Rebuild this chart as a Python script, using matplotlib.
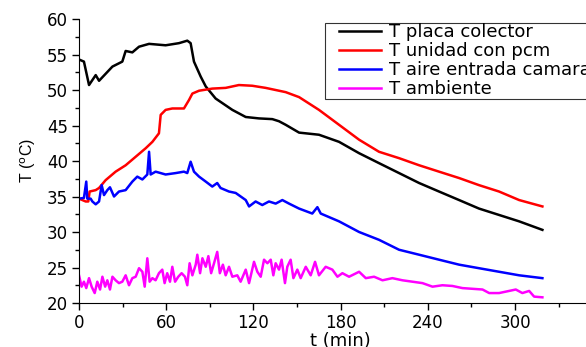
import numpy as np
import matplotlib.pyplot as plt
from matplotlib.ticker import MultipleLocator, FixedLocator
from matplotlib.legend_handler import HandlerLine2D

plt.rcParams['font.family'] = ['DejaVu Sans']

# readings (t in min, T in degC)
t_placa = [0, 3.4, 6.9, 11.5, 13.8, 23, 29.8, 32.1, 36.7, 41.3, 48.2, 59.6, 68.8, 74.5,
           76.8, 79.1, 83.7, 87.2, 94, 105.5, 114.7, 123.8, 133, 137.6, 142.2, 151.4,
           165.1, 178.9, 192.7, 206.4, 220.2, 234, 247.7, 261.5, 275.2, 289, 302.8, 318.8]
T_placa = [54.3, 54.0, 50.7, 52.1, 51.3, 53.3, 54.0, 55.5, 55.3, 56.1, 56.5, 56.3, 56.6, 56.95,
           56.6, 54.0, 51.9, 50.5, 48.8, 47.2, 46.2, 46.0, 45.9, 45.6, 45.1, 44.0,
           43.7, 42.7, 41.1, 39.7, 38.3, 36.9, 35.7, 34.5, 33.3, 32.4, 31.5, 30.3]

t_pcm = [0, 4.6, 6.4, 7.3, 11.5, 13.8, 18.3, 25.2, 32.1, 39, 45.9, 50.5, 55, 56.2, 59.6,
         64.2, 72.2, 75.7, 78, 82.6, 91.7, 100.9, 110, 119.2, 128.4, 137.6, 142.2, 151.4,
         165.1, 178.9, 192.7, 206.4, 220.2, 234, 247.7, 261.5, 275.2, 289, 302.8, 318.8]
T_pcm = [34.7, 34.3, 34.3, 35.7, 35.9, 36.2, 37.3, 38.5, 39.4, 40.6, 41.8, 42.7, 43.9, 46.5, 47.2,
         47.4, 47.4, 48.6, 49.5, 49.9, 50.2, 50.3, 50.7, 50.6, 50.3, 49.9, 49.7, 49.0,
         47.2, 45.1, 43.0, 41.3, 40.4, 39.4, 38.5, 37.6, 36.6, 35.7, 34.5, 33.6]

t_aire = [0, 3.4, 5.0, 5.7, 8.0, 9.2, 11.5, 13.8, 15.6, 17.2, 19.5, 21.3, 24.1, 27.5, 32.1,
          36.7, 40.1, 43.6, 47, 48.2, 49.3, 52.7, 59.6, 66.5, 72.2, 74.5, 76.8, 79.1, 82.6,
          87.2, 91.7, 95.1, 97.4, 103.2, 107.8, 114.7, 117, 121.5, 126.1, 130.7, 135.3,
          139.9, 144.5, 151.4, 160.5, 164, 166.3, 178.9, 192.7, 206.4, 220.2, 234, 247.7,
          261.5, 275.2, 289, 302.8, 318.8]
T_aire = [34.7, 34.8, 37.1, 34.7, 34.7, 34.3, 33.9, 34.3, 36.6, 35.2, 35.9, 36.3, 35.0, 35.7, 35.9,
          37.1, 37.8, 37.4, 38.1, 41.3, 38.1, 38.5, 38.1, 38.3, 38.5, 38.3, 39.9, 38.5, 37.8,
          37.1, 36.4, 36.9, 36.2, 35.7, 35.5, 34.5, 33.6, 34.3, 33.8, 34.3, 34.0,
          34.5, 34.0, 33.3, 32.6, 33.5, 32.6, 31.5, 30.0, 28.9, 27.5, 26.8, 26.1,
          25.4, 24.9, 24.4, 23.9, 23.5]

t_amb = [0, 1.8, 3.4, 5, 6.9, 8.7, 10.8, 12.6, 14.5, 16.1, 18, 19.5, 21.3, 23, 25.2, 27.5,
         29.8, 32.1, 34.4, 36.7, 39, 41.3, 43.6, 45.2, 47, 48.6, 50.5, 52.7, 55, 57.3, 58.9,
         60.7, 62.6, 64.2, 66.1, 68.3, 70.6, 72.9, 74.5, 76.1, 78, 80.3, 81.4, 83.3, 84.9,
         87.2, 89, 90.9, 92.9, 95.1, 96.9, 99, 100.9, 103.2, 105.5, 108.9, 111.2, 114.7,
         117, 120.4, 122.7, 125, 127.3, 129.6, 131.9, 133.7, 135.3, 137.6, 139.4, 141.7,
         143.3, 145.6, 147.5, 150.2, 152.5, 156, 159.4, 162.4, 165.1, 169.7, 174.3, 177.8,
         181.2, 185.8, 192.7, 197.3, 203, 208.8, 215.6, 222.5, 229.4, 236.3, 243.2, 250,
         256.9, 263.8, 270.7, 277.6, 282.2, 289, 295.9, 300.5, 305, 309.7, 313.1, 318.8]
T_amb = [23.9, 22.3, 23.0, 22.1, 23.5, 22.3, 21.4, 23.0, 21.9, 23.7, 22.3, 23.2, 21.9, 23.7, 23.2, 22.8,
         23.0, 23.9, 22.5, 23.5, 23.7, 24.9, 24.4, 22.3, 26.3, 23.0, 23.5, 23.2, 24.2, 24.7, 22.8,
         24.2, 23.0, 25.1, 23.0, 23.7, 24.2, 23.7, 22.5, 25.6, 23.9, 25.4, 26.8, 24.2, 26.3,
         25.1, 26.6, 24.2, 25.6, 27.2, 24.2, 25.4, 23.9, 25.1, 23.7, 23.9, 23.0, 24.7,
         22.8, 25.8, 24.4, 23.7, 26.1, 25.6, 26.1, 23.9, 25.6, 24.7, 26.1, 22.8,
         25.1, 26.1, 23.5, 24.7, 23.5, 25.1, 23.9, 25.8, 23.9, 25.1, 24.7, 23.7,
         24.2, 23.7, 24.4, 23.5, 23.7, 23.2, 23.5, 23.2, 23.0, 22.8, 22.3, 22.5,
         22.4, 22.1, 22.0, 21.9, 21.4, 21.4, 21.7, 21.9, 21.4, 21.7, 20.9, 20.8]

x_major = [0, 60, 120, 180, 240, 300]

fig = plt.figure(figsize=(5.86, 3.47), dpi=100)
ax = fig.add_axes([0.1348, 0.1268, 0.893, 0.8184])

lw = 1.8
ax.plot(t_placa, T_placa, color='black', lw=lw, label='T placa colector')
ax.plot(t_pcm, T_pcm, color='#ff0000', lw=lw, label='T unidad con pcm')
ax.plot(t_aire, T_aire, color='#0000ff', lw=lw, label='T aire entrada camara')
ax.plot(t_amb, T_amb, color='#ff00ff', lw=lw, label='T ambiente')

ax.set_xlim(0, 360)
ax.set_ylim(20, 60)
ax.xaxis.set_major_locator(FixedLocator(x_major))
ax.xaxis.set_minor_locator(MultipleLocator(30))
ax.yaxis.set_major_locator(MultipleLocator(5))
ax.yaxis.set_minor_locator(MultipleLocator(2.5))
ax.tick_params(which='major', direction='out', length=5, width=1, labelsize=12, pad=3)
ax.tick_params(which='minor', direction='out', length=3, width=1)
ax.spines['top'].set_visible(False)
ax.spines['right'].set_visible(False)

ax.set_xlabel('t (min)', fontsize=13, labelpad=0)
ax.set_ylabel(r'T ($^{\mathrm{o}}$C)', fontsize=11.5, labelpad=6, family='Liberation Sans')

leg = ax.legend(loc='upper left', bbox_to_anchor=(325 / 586, 1 - 22.5 / 347),
                bbox_transform=fig.transFigure, fontsize=13, frameon=True,
                fancybox=False, shadow=False, borderaxespad=0, handlelength=3.8,
                handletextpad=-0.33, labelspacing=0.05, borderpad=0.05, numpoints=2,
                handler_map={plt.Line2D: HandlerLine2D(marker_pad=0.75)})
leg.get_frame().set_edgecolor('black')
leg.get_frame().set_linewidth(0.8)

fig.savefig('out.png', dpi=100)
